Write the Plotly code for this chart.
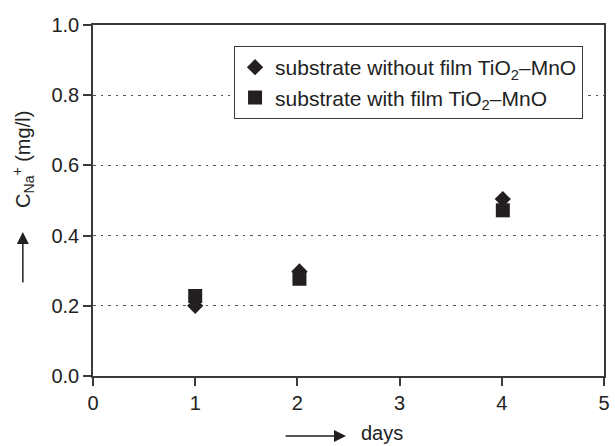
import plotly.graph_objects as go

# Sodium ion concentration measured over several days
days = [1, 2.02, 4.01]
without_film = [0.200, 0.298, 0.504]
with_film = [0.228, 0.277, 0.472]

x_ticks = [0, 1, 2, 3, 4, 5]
y_ticks = [0.0, 0.2, 0.4, 0.6, 0.8, 1.0]

ink = "#231f20"
axis_col = "#3a3a3a"
font_family = "Liberation Sans, Arial, sans-serif"

fig = go.Figure()

fig.add_trace(go.Scatter(
    x=days, y=without_film, mode="markers",
    name="substrate without film TiO<sub>2</sub>–MnO",
    legendgroup="a",
    marker=dict(symbol="diamond", size=12.5, color=ink, line=dict(width=0)),
))
fig.add_trace(go.Scatter(
    x=days, y=with_film, mode="markers",
    name="substrate with film TiO<sub>2</sub>–MnO",
    legendgroup="b",
    marker=dict(symbol="square", size=14, color=ink, line=dict(width=0)),
))

fig.update_layout(
    width=615, height=446,
    margin=dict(l=93, r=5, t=25, b=70),
    paper_bgcolor="white", plot_bgcolor="white",
    font=dict(family=font_family, size=20, color="#222"),
    showlegend=True,
    legend=dict(
        x=0.959, y=0.940, xanchor="right", yanchor="top",
        bordercolor=axis_col, borderwidth=1, bgcolor="white",
        font=dict(size=21, color="#222"),
        traceorder="grouped", tracegroupgap=0,
    ),
)

fig.update_xaxes(
    range=[0, 5], tickvals=x_ticks, ticktext=[str(v) for v in x_ticks],
    showgrid=False, zeroline=False,
    showline=True, linecolor=axis_col, linewidth=1.5, mirror=True,
    ticks="outside", ticklen=8, tickwidth=1.5, tickcolor=axis_col,
    tickfont=dict(size=20, color="#222"),
)
fig.update_yaxes(
    range=[0, 1], tickvals=y_ticks, ticktext=[f"{v:.1f}" for v in y_ticks],
    showgrid=True, gridcolor="#555", gridwidth=1.2, griddash="2.5px,5px",
    zeroline=False,
    showline=True, linecolor=axis_col, linewidth=1.5, mirror=True,
    ticks="outside", ticklen=8, tickwidth=1.5, tickcolor=axis_col,
    tickfont=dict(size=20, color="#222"),
)

# Y-axis title with its upward arrow
fig.add_annotation(
    text="C<sub>Na</sub><sup>+</sup> (mg/l)", textangle=-90,
    xref="paper", yref="paper", x=-0.1373, y=0.618,
    xanchor="center", yanchor="middle", showarrow=False,
    font=dict(size=20, color="#222"),
)
fig.add_annotation(
    text="", xref="paper", yref="paper", x=-0.1373, y=0.41,
    ax=0, ay=52, showarrow=True, arrowhead=2, arrowsize=1.6,
    arrowwidth=1.5, arrowcolor=ink,
)

# X-axis title with its rightward arrow
fig.add_annotation(
    text="days", xref="paper", yref="paper", x=0.566, y=-0.1994,
    xanchor="center", yanchor="bottom", showarrow=False,
    font=dict(size=20, color="#222"),
)
fig.add_annotation(
    text="", xref="paper", yref="paper", x=(349 - 93) / 517, y=(376 - 436) / 351,
    ax=-62, ay=0, showarrow=True, arrowhead=2, arrowsize=1.6,
    arrowwidth=1.5, arrowcolor=ink,
)

fig.write_html("out.html")
